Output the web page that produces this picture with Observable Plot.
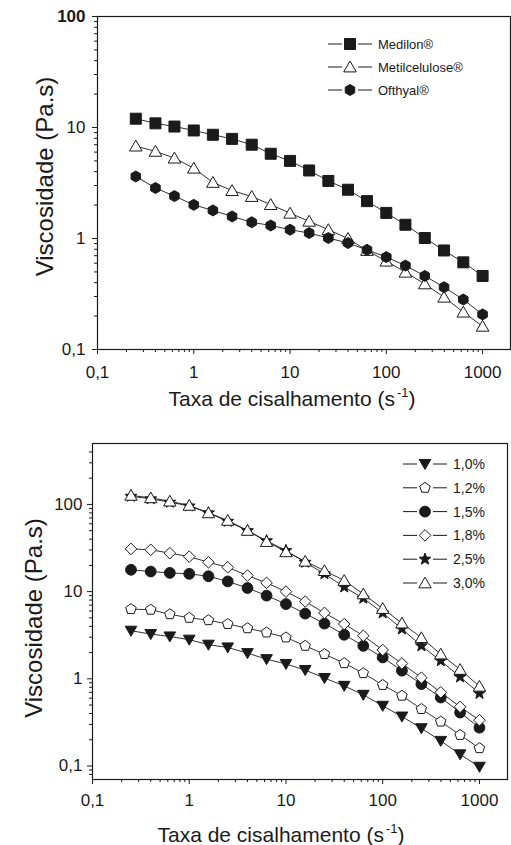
<!DOCTYPE html>
<html><head><meta charset="utf-8">
<script src="https://cdn.jsdelivr.net/npm/d3@7"></script>
<script src="https://cdn.jsdelivr.net/npm/@observablehq/plot@0.6"></script>
<style>
body{margin:0;background:#fff;}
#wrap{position:relative;width:511px;height:845px;overflow:hidden;font-family:"Liberation Sans",Arial,sans-serif;color:#1a1a1a;background:#fff}
#top{position:absolute;left:0;top:0}
#bot{position:absolute;left:0;top:420px}
</style></head><body><div id="wrap"><div id="top"></div><div id="bot"></div></div>
<script>
// ---------- data ----------
const shearRate = [0.25, 0.4, 0.63, 1, 1.58, 2.5, 4, 6.3, 10, 15.8, 25, 40, 63, 100, 158, 251, 398, 631, 1000];

const topLabels = ["Medilon®", "Metilcelulose®", "Ofthyal®"];
const medilon  = [12.0, 10.9, 10.2, 9.4, 8.6, 7.9, 7.0, 5.8, 5.0, 4.1, 3.3, 2.75, 2.17, 1.70, 1.33, 1.01, 0.78, 0.61, 0.46];
const metilcel = [6.8, 6.1, 5.3, 4.3, 3.2, 2.7, 2.39, 2.02, 1.69, 1.43, 1.2, 1.0, 0.78, 0.625, 0.497, 0.39, 0.296, 0.217, 0.162];
const ofthyal  = [3.62, 2.85, 2.41, 2.01, 1.79, 1.58, 1.40, 1.31, 1.2, 1.12, 1.01, 0.91, 0.79, 0.68, 0.57, 0.46, 0.364, 0.282, 0.207];

const botLabels = ["1,0%", "1,2%", "1,5%", "1,8%", "2,5%", "3,0%"];
const c10 = [3.56, 3.26, 3.06, 2.81, 2.46, 2.29, 1.97, 1.68, 1.48, 1.26, 1.02, 0.83, 0.655, 0.49, 0.369, 0.271, 0.194, 0.136, 0.098];
const c12 = [6.3, 6.2, 5.5, 5.0, 4.7, 4.25, 3.8, 3.4, 2.98, 2.39, 1.92, 1.51, 1.16, 0.85, 0.64, 0.45, 0.323, 0.227, 0.16];
const c15 = [17.8, 17.0, 16.4, 16.0, 15.0, 13.1, 11.0, 9.0, 7.2, 5.6, 4.3, 3.2, 2.39, 1.76, 1.24, 0.87, 0.61, 0.41, 0.275];
const c18 = [30.9, 30.2, 27.6, 25.2, 21.7, 19.0, 15.3, 12.6, 10.0, 7.7, 5.7, 4.25, 3.12, 2.14, 1.50, 1.03, 0.70, 0.477, 0.335];
const c25 = [124, 116, 106, 96, 80, 64, 50, 38.3, 29.6, 21.7, 16.0, 11.3, 8.4, 5.7, 3.73, 2.39, 1.61, 1.05, 0.68];
const c30 = [127, 119, 109, 97.4, 80, 65.5, 50.3, 37.5, 28.6, 22.3, 17.4, 13.4, 9.4, 6.4, 4.35, 2.96, 1.92, 1.28, 0.82];

const xMajor = [0.1, 1, 10, 100, 1000];
const yMajorTop = [0.1, 1, 10];
const yBoldTop = [100];
const yMajorBot = [0.1, 1, 10, 100];
const minorMult = [2, 3, 4, 5, 6, 7, 8, 9];

// ---------- helpers ----------
const INK = "#1a1a1a";
const FONT = '"Liberation Sans", Arial, Helvetica, sans-serif';
const fmt = d => String(d).replace(".", ",");
const minorOf = (decades, lo, hi) => decades.flatMap(d => minorMult.map(m => +(d * m).toPrecision(3))).filter(v => v > lo && v < hi);

const H = s => Math.sqrt(s / Math.PI);
function poly(c, pts) { c.moveTo(pts[0][0], pts[0][1]); for (let i = 1; i < pts.length; i++) c.lineTo(pts[i][0], pts[i][1]); c.closePath(); }
function ngon(c, h, n, start) { const p = []; for (let k = 0; k < n; k++) { const a = (start + 360 * k / n) * Math.PI / 180; p.push([h * Math.cos(a), h * Math.sin(a)]); } poly(c, p); }
const sym = {
  square:  {draw(c, s) { const h = H(s); c.rect(-h, -h, 2 * h, 2 * h); }},
  triUp:   {draw(c, s) { const h = H(s); poly(c, [[0, -0.95 * h], [h, 0.78 * h], [-h, 0.78 * h]]); }},
  triDown: {draw(c, s) { const h = H(s); poly(c, [[0, 0.95 * h], [h, -0.78 * h], [-h, -0.78 * h]]); }},
  hexagon: {draw(c, s) { ngon(c, H(s), 6, -90); }},
  pentagon:{draw(c, s) { ngon(c, H(s), 5, -90); }},
  circle:  {draw(c, s) { const h = H(s); c.moveTo(h, 0); c.arc(0, 0, h, 0, 2 * Math.PI); }},
  diamond: {draw(c, s) { const h = H(s); poly(c, [[0, -h], [h, 0], [0, h], [-h, 0]]); }},
  star:    {draw(c, s) { const h = H(s); const p = []; for (let k = 0; k < 10; k++) { const a = (-90 + 36 * k) * Math.PI / 180; const r = k % 2 ? 0.42 * h : h; p.push([r * Math.cos(a), r * Math.sin(a)]); } poly(c, p); }}
};

function seriesMarks(values, s) {
  const data = shearRate.map((x, i) => ({x, y: values[i]}));
  return [
    Plot.line(data, {x: "x", y: "y", stroke: INK, strokeWidth: 0.9}),
    Plot.dot(data, {x: "x", y: "y", symbol: s.symbol, r: s.r, fill: s.fill, stroke: INK, strokeWidth: 1})
  ];
}

function addDecor(svg, o) {
  const g = d3.select(svg).append("g").attr("fill", INK).attr("text-anchor", "start").style("font-family", FONT);
  const t = g.append("text").attr("x", o.xt[0]).attr("y", o.xt[1]).attr("text-anchor", "middle").attr("font-size", 21);
  t.append("tspan").text("Taxa de cisalhamento (s");
  t.append("tspan").attr("dy", -9).attr("dx", 2).attr("font-size", 13).text("-1");
  t.append("tspan").attr("dy", 9).text(")");
  g.append("text").attr("transform", `translate(${o.yt[0]},${o.yt[1]}) rotate(-90)`).attr("text-anchor", "middle").attr("font-size", 24).text("Viscosidade (Pa.s)");
  const L = o.legend;
  L.items.forEach((it, i) => {
    const y = L.y0 + i * L.dy;
    g.append("line").attr("x1", L.x - 22).attr("x2", L.x - 8).attr("y1", y).attr("y2", y).attr("stroke", INK).attr("stroke-width", 1);
    g.append("line").attr("x1", L.x + 8).attr("x2", L.x + 22).attr("y1", y).attr("y2", y).attr("stroke", INK).attr("stroke-width", 1);
    g.append("path").attr("d", d3.symbol(it.symbol, Math.PI * it.r * it.r)()).attr("transform", `translate(${L.x},${y})`)
      .attr("fill", it.fill).attr("stroke", INK).attr("stroke-width", 1);
    g.append("text").attr("x", L.x + 28).attr("y", y).attr("dy", "0.35em").attr("text-anchor", "start").attr("font-size", L.fs).text(it.label);
  });
}

// ---------- top chart ----------
const topStyles = [
  {symbol: sym.square, r: 5.5, fill: INK},
  {symbol: sym.triUp, r: 6.3, fill: "white"},
  {symbol: sym.hexagon, r: 5.5, fill: INK}
];
const topSeries = [medilon, metilcel, ofthyal];

const topChart = Plot.plot({
  width: 511, height: 415,
  marginLeft: 97, marginRight: 1, marginTop: 16, marginBottom: 66,
  style: {fontFamily: FONT, color: INK, background: "white", overflow: "visible"},
  x: {type: "log", domain: [0.1, 1950], label: null},
  y: {type: "log", domain: [0.1, 100], label: null},
  marks: [
    Plot.axisX({ticks: xMajor, tickSize: 5, tickPadding: 11, tickFormat: fmt, fontSize: 17, label: null}),
    Plot.axisX({ticks: minorOf(xMajor, 0.1, 1950), tickSize: 3, fill: "none", label: null}),
    Plot.axisY({ticks: yMajorTop, tickSize: 5, tickPadding: 7, tickFormat: fmt, fontSize: 17, label: null}),
    Plot.axisY({ticks: yBoldTop, tickSize: 5, tickPadding: 7, tickFormat: fmt, fontSize: 17, fontWeight: "bold", label: null}),
    Plot.axisY({ticks: minorOf([0.1, 1, 10], 0.1, 100), tickSize: 3, fill: "none", label: null}),
    Plot.frame({stroke: INK, strokeWidth: 1.2}),
    ...topSeries.flatMap((v, i) => seriesMarks(v, topStyles[i]))
  ]
});
document.getElementById("top").append(topChart);
addDecor(topChart, {
  xt: [292, 406], yt: [53, 176.5],
  legend: {x: 350, y0: 44, dy: 23, fs: 13, items: topLabels.map((label, i) => ({label, ...topStyles[i]}))}
});

// ---------- bottom chart ----------
const botStyles = [
  {symbol: sym.triDown, r: 5.8, fill: INK},
  {symbol: sym.pentagon, r: 5.5, fill: "white"},
  {symbol: sym.circle, r: 5.4, fill: INK},
  {symbol: sym.diamond, r: 5.8, fill: "white"},
  {symbol: sym.star, r: 6.2, fill: INK},
  {symbol: sym.triUp, r: 6.2, fill: "white"}
];
const botSeries = [c10, c12, c15, c18, c25, c30];

const botChart = Plot.plot({
  width: 511, height: 425,
  marginLeft: 92, marginRight: 4, marginTop: 23, marginBottom: 66,
  style: {fontFamily: FONT, color: INK, background: "white", overflow: "visible"},
  x: {type: "log", domain: [0.1, 1950], label: null},
  y: {type: "log", domain: [0.07, 500], label: null},
  marks: [
    Plot.axisX({ticks: xMajor, tickSize: 5, tickPadding: 9, tickFormat: fmt, fontSize: 17, label: null}),
    Plot.axisX({ticks: minorOf(xMajor, 0.1, 1950), tickSize: 3, fill: "none", label: null}),
    Plot.axisY({ticks: yMajorBot, tickSize: 5, tickPadding: 5, tickFormat: fmt, fontSize: 17, label: null}),
    Plot.axisY({ticks: minorOf([0.01, 0.1, 1, 10, 100], 0.07, 500), tickSize: 3, fill: "none", label: null}),
    Plot.frame({stroke: INK, strokeWidth: 1.2}),
    ...botSeries.flatMap((v, i) => seriesMarks(v, botStyles[i]))
  ]
});
document.getElementById("bot").append(botChart);
addDecor(botChart, {
  xt: [281, 422], yt: [41.7, 198],
  legend: {x: 425, y0: 44, dy: 23.8, fs: 14, items: botLabels.map((label, i) => ({label, ...botStyles[i]}))}
});
</script></body></html>
